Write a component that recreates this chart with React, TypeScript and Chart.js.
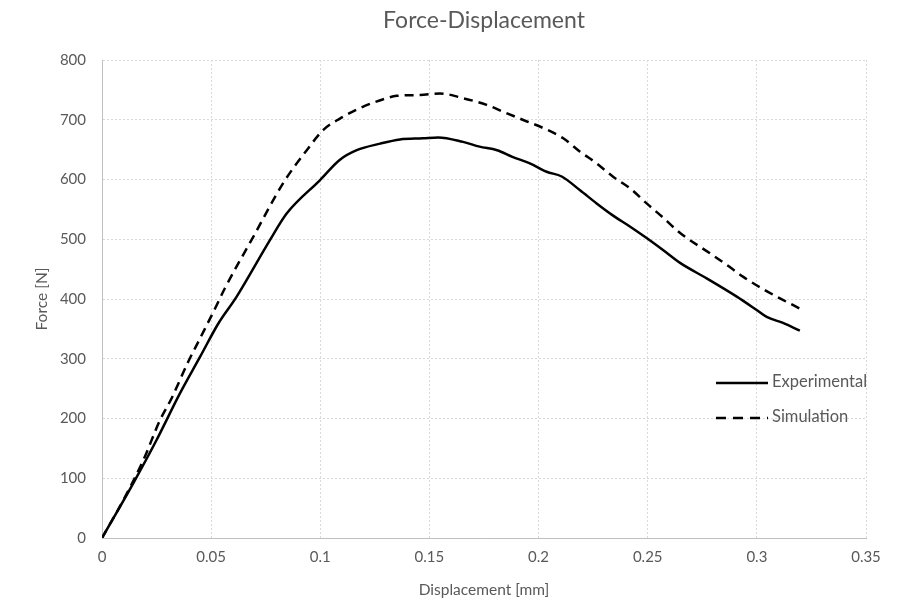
import React, { useEffect, useRef } from "react";
import { Chart, registerables } from "chart.js";

Chart.register(...registerables);

const title = "Force-Displacement";
const xTitle = "Displacement [mm]";
const yTitle = "Force [N]";
const seriesNames = ["Experimental", "Simulation"];

const expX = [0, 0.0143, 0.025, 0.0357, 0.0449, 0.0533, 0.0617, 0.077, 0.0846, 0.0999, 0.109, 0.1167, 0.1274, 0.1365, 0.147, 0.154, 0.1654, 0.173, 0.181, 0.188, 0.196, 0.2037, 0.2106, 0.219, 0.2266, 0.234, 0.242, 0.2495, 0.257, 0.265, 0.277, 0.2908, 0.2999, 0.3045, 0.312, 0.3197];
const expY = [0, 91.5, 164, 242, 303, 359, 404, 499, 543, 599, 633, 649, 660, 667, 669, 670.5, 663, 655, 649, 638, 627, 613, 605, 582, 560, 540, 521, 502, 482, 460, 434.6, 404, 381.6, 370, 360, 347];

const simX = [0, 0.0098, 0.0189, 0.0266, 0.0319, 0.0395, 0.0449, 0.0518, 0.0563, 0.0693, 0.083, 0.0938, 0.1014, 0.109, 0.1197, 0.1304, 0.135, 0.1457, 0.1548, 0.1655, 0.1762, 0.1837, 0.193, 0.2022, 0.2113, 0.219, 0.2266, 0.234, 0.242, 0.2495, 0.2565, 0.265, 0.2785, 0.2862, 0.2938, 0.3022, 0.3106, 0.3197];
const simY = [0, 63.6, 130, 197.5, 234, 295, 334, 384, 418, 504, 594, 649, 683, 702, 722, 736, 740, 741.4, 744, 736, 725, 713.5, 699.6, 686, 669, 646.6, 627, 605, 585, 560, 538, 510, 476.5, 457, 437, 418, 401, 384];

const xMin = 0, xMax = 0.35, xStep = 0.05;
const yMin = 0, yMax = 800, yStep = 100;

const FONT = "Lato, 'Open Sans', sans-serif";
const TEXT = "#595959";

const toPoints = (xs: number[], ys: number[]) => xs.map((x, i) => ({ x, y: ys[i] }));

const legendPlugin = {
  id: "insideLegend",
  afterDraw(chart: any) {
    const ctx = chart.ctx;
    const items = [
      { label: seriesNames[0], dash: [] as number[], y: 383 },
      { label: seriesNames[1], dash: [10, 7], y: 418 },
    ];
    ctx.save();
    items.forEach((it) => {
      ctx.beginPath();
      ctx.setLineDash(it.dash);
      ctx.lineWidth = 2.5;
      ctx.strokeStyle = "#000";
      ctx.moveTo(716, it.y);
      ctx.lineTo(768, it.y);
      ctx.stroke();
      ctx.setLineDash([]);
      ctx.fillStyle = TEXT;
      ctx.font = `16.5px ${FONT}`;
      ctx.textBaseline = "middle";
      ctx.textAlign = "left";
      ctx.fillText(it.label, 772, it.y - 1);
    });
    ctx.restore();
  },
};

export default function App() {
  const ref = useRef<HTMLCanvasElement | null>(null);
  useEffect(() => {
    if (!ref.current) return;
    const chart = new Chart(ref.current, {
      type: "line",
      data: {
        datasets: [
          {
            label: seriesNames[0],
            data: toPoints(expX, expY),
            borderColor: "#000",
            borderWidth: 2.5,
            pointRadius: 0,
            cubicInterpolationMode: "monotone",
            fill: false,
          },
          {
            label: seriesNames[1],
            data: toPoints(simX, simY),
            borderColor: "#000",
            borderWidth: 2.5,
            borderDash: [9, 6],
            pointRadius: 0,
            cubicInterpolationMode: "monotone",
            fill: false,
          },
        ],
      },
      options: {
        animation: false,
        responsive: false,
        maintainAspectRatio: false,
        layout: { padding: { left: 0, right: 39, top: 0, bottom: 0 } },
        plugins: {
          legend: { display: false },
          tooltip: { enabled: false },
          title: {
            display: true,
            fullSize: false,
            text: title,
            color: TEXT,
            font: { family: FONT, size: 23, weight: "normal" },
            padding: { top: 7, bottom: 25.4 },
          },
        },
        scales: {
          x: {
            type: "linear",
            min: xMin,
            max: xMax,
            afterFit: (axis: any) => { axis.height = 66; },
            ticks: {
              stepSize: xStep,
              color: TEXT,
              font: { family: FONT, size: 15 },
              padding: 10,
              callback: (v: any) => String(Math.round(Number(v) * 100) / 100),
            },
            grid: { color: "#d9d9d9", drawTicks: false, lineWidth: 1 },
            border: { color: "#bfbfbf", dash: [2, 2], width: 1 },
            title: {
              display: true,
              text: xTitle,
              color: TEXT,
              font: { family: FONT, size: 15.5 },
              padding: { top: 0, bottom: 5 },
            },
          },
          y: {
            type: "linear",
            min: yMin,
            max: yMax,
            afterFit: (axis: any) => { axis.width = 102; },
            ticks: {
              stepSize: yStep,
              color: TEXT,
              font: { family: FONT, size: 15 },
              padding: 16,
            },
            grid: { color: "#d9d9d9", drawTicks: false, lineWidth: 1 },
            border: { color: "#bfbfbf", dash: [2, 2], width: 1 },
            title: {
              display: true,
              text: yTitle,
              color: TEXT,
              font: { family: FONT, size: 15.5 },
              padding: { top: 33, bottom: 0 },
            },
          },
        },
      },
      plugins: [legendPlugin],
    } as any);
    return () => chart.destroy();
  }, []);
  return (
    <div style={{ position: "absolute", left: 0, top: 0, width: 905, height: 604, background: "#fff" }}>
      <canvas ref={ref} width={905} height={604} />
    </div>
  );
}
